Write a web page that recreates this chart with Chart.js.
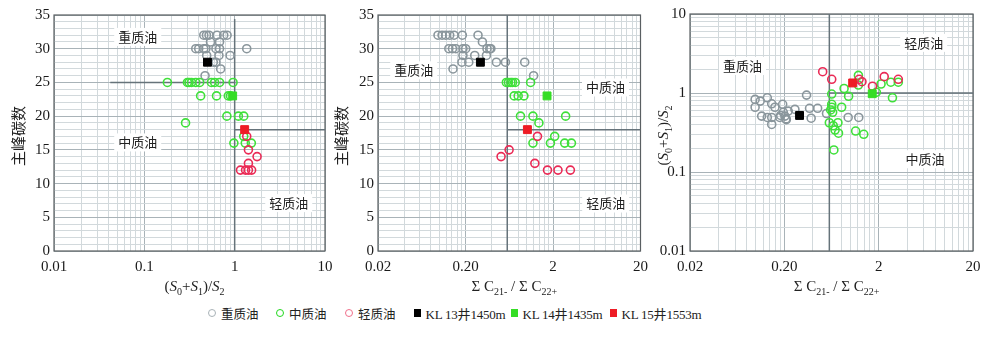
<!DOCTYPE html>
<html>
<head>
<meta charset="utf-8">
<script src="https://cdn.jsdelivr.net/npm/chart.js@4.4.1/dist/chart.umd.min.js"></script>
<style>
body { margin: 0; background: #fff; }
#wrap { position: relative; width: 1000px; height: 339px; overflow: hidden; background: #fff; }
canvas { position: absolute; top: 0; }
#legend { position: absolute; top: 303px; left: 0; width: 1000px; height: 20px; color: #222;
  font-family: 'Liberation Serif', 'Noto Sans CJK SC', serif; }
.item { position: absolute; top: 0; height: 20px; display: flex; align-items: center; white-space: nowrap; }
.mk { display: inline-block; box-sizing: border-box; margin-right: 5px; }
.circ { width: 8px; height: 8px; border-radius: 50%; border: 1.5px solid; }
.sq { width: 7px; height: 8px; }
</style>
</head>
<body>
<div id="wrap">
  <canvas id="chartA" width="340" height="300" style="left:0px"></canvas>
  <canvas id="chartB" width="325" height="300" style="left:330px"></canvas>
  <canvas id="chartC" width="355" height="300" style="left:645px"></canvas>
  <div id="legend"></div>
</div>
<script>
// ---- 数据：左图 (S0+S1)/S2 - 主峰碳数 ----
const heavyS_A = [0.455, 0.487, 0.52, 0.638, 0.757, 0.824, 0.54, 0.68, 0.371, 0.40, 0.455, 0.48, 0.62, 0.68, 1.36, 0.49, 0.67, 0.89, 0.58, 0.62, 0.70, 0.47];
const heavyPeakA = [32, 32, 32, 32, 32, 32, 31, 31, 30, 30, 30, 30, 30, 30, 30, 29, 29, 29, 28, 28, 27, 26];
const midS_A = [0.18, 0.30, 0.313, 0.333, 0.371, 0.41, 0.553, 0.60, 0.68, 0.96, 0.42, 0.63, 0.85, 0.90, 0.82, 1.10, 1.26, 0.286, 1.26, 0.98, 1.31, 1.53];
const midPeakA = [25, 25, 25, 25, 25, 25, 25, 25, 25, 25, 23, 23, 23, 23, 20, 20, 20, 19, 17, 16, 16, 16];
const lightS_A = [1.36, 1.42, 1.77, 1.42, 1.16, 1.32, 1.42, 1.54];
const lightPeakA = [17, 15, 14, 13, 12, 12, 12, 12];
const wellS_A = [0.50, 0.95, 1.29];
const wellPeakA = [28, 23, 18];

// ---- 数据：中图 ΣC21-/ΣC22+ - 主峰碳数 ----
const heavyC_B = [0.097, 0.108, 0.119, 0.132, 0.148, 0.184, 0.278, 0.312, 0.129, 0.142, 0.155, 0.187, 0.201, 0.352, 0.378, 0.39, 0.187, 0.255, 0.347, 0.182, 0.218, 0.451, 0.572, 0.95, 0.144, 1.2];
const heavyPeakB = [32, 32, 32, 32, 32, 32, 32, 31, 30, 30, 30, 30, 30, 30, 30, 30, 29, 29, 29, 28, 28, 28, 28, 28, 27, 26];
const midC_B = [0.586, 0.62, 0.66, 0.69, 0.74, 1.11, 0.72, 0.80, 0.93, 0.85, 1.18, 2.79, 1.38, 2.09, 1.18, 1.87, 2.72, 3.25];
const midPeakB = [25, 25, 25, 25, 25, 25, 23, 23, 23, 20, 20, 20, 19, 17, 16, 16, 16, 16];
const lightC_B = [1.33, 0.63, 0.51, 1.24, 1.73, 2.28, 3.16];
const lightPeakB = [17, 15, 14, 13, 12, 12, 12];
const wellC_B = [0.296, 1.71, 1.02];
const wellPeakB = [28, 23, 18];

// ---- 数据：右图 ΣC21-/ΣC22+ - (S0+S1)/S2 ----
const heavyC_C = [0.098, 0.098, 0.111, 0.132, 0.147, 0.159, 0.192, 0.195, 0.203, 0.208, 0.115, 0.132, 0.147, 0.147, 0.179, 0.183, 0.21, 0.259, 0.22, 0.344, 0.37, 0.385, 0.451, 0.56, 0.95, 1.23];
const heavyS_C = [0.83, 0.66, 0.79, 0.87, 0.73, 0.66, 0.72, 0.57, 0.51, 0.47, 0.51, 0.49, 0.49, 0.40, 0.49, 0.52, 0.46, 0.62, 0.59, 0.94, 0.64, 0.48, 0.64, 0.55, 0.49, 0.49];
const midC_C = [0.636, 0.636, 0.636, 0.62, 0.65, 0.60, 0.66, 0.69, 0.75, 0.74, 0.67, 0.81, 0.86, 0.96, 1.14, 1.39, 1.22, 1.22, 1.89, 2.12, 2.69, 2.80, 3.23];
const midS_C = [0.97, 0.72, 0.66, 0.61, 0.57, 0.42, 0.385, 0.34, 0.31, 0.42, 0.19, 0.66, 1.14, 0.91, 0.33, 0.30, 1.67, 1.26, 1.02, 1.30, 1.37, 0.87, 1.37];
const lightC_C = [0.51, 0.636, 1.24, 1.33, 1.72, 2.29, 3.23];
const lightS_C = [1.86, 1.49, 1.49, 1.39, 1.22, 1.61, 1.49];
const wellC_C = [0.29, 1.71, 1.06];
const wellS_C = [0.52, 0.98, 1.34];

// 刻度
const peakTicks = [0, 5, 10, 15, 20, 25, 30, 35];
const sTicks = [0.01, 0.1, 1, 10];
const sTickLabels = ['0.01', '0.1', '1', '10'];
const cTicks = [0.02, 0.2, 2, 20];
const cTickLabels = ['0.02', '0.20', '2', '20'];

// 分界线 (数据坐标)
const cutsA = [[[0.042, 25], [1, 25]], [[1, 0], [1, 34.4]], [[1, 18], [10, 18]]];
const cutsB = [[[0.6, 0], [0.6, 35]], [[0.6, 18], [20, 18]]];
const cutsC = [[[0.6, 0.01], [0.6, 10]], [[0.6, 1], [20, 1]]];

// 区域文字 (数据坐标)
const zonesA = [['重质油', 0.0845, 31.75], ['中质油', 0.0845, 16.1], ['轻质油', 3.97, 7.1]];
const zonesB = [['重质油', 0.0512, 26.8], ['中质油', 7.96, 24.25], ['轻质油', 8.0, 7.04]];
const zonesC = [['轻质油', 6.0, 4.31], ['重质油', 0.072, 2.2], ['中质油', 6.2, 0.145]];

const typeNames = ['重质油', '中质油', '轻质油'];
const wellNames = ['KL 13井1450m', 'KL 14井1435m', 'KL 15井1553m'];

// ---- 样式 ----
const typeColors = ['#8a969c', '#3fe03a', '#ea2a55'];
const legendCircleColors = ['#a8b2b7', '#22d81e', '#f0708c'];
const wellColors = ['#000000', '#35dd25', '#ee1c25'];
const gridMinor = '#d2d9dc';
const gridMajor = '#a9b3b8';
const cutColor = '#66737a';
const tickFont = { family: "'Liberation Serif', serif", size: 15 };

const titleS = [['(', 'n'], ['S', 'i'], ['0', 's'], ['+', 'n'], ['S', 'i'], ['1', 's'], [')/', 'n'], ['S', 'i'], ['2', 's']];
const titleC = [['Σ', 'n'], [' C', 'n'], ['21-', 's'], [' /', 'n'], [' Σ', 'n'], [' C', 'n'], ['22+', 's']];
const titlePeak = [['主峰碳数', 'c']];

function pts(xs, ys) {
    return xs.map((x, i) => ({ x: x, y: ys[i] }));
}

// 对数网格：每个标注刻度的 1~9 倍
function logGrid(labels) {
    const out = [];
    for (let i = 0; i < labels.length - 1; i++) {
        for (let k = 1; k < 10; k++) out.push(labels[i] * k);
    }
    out.push(labels[labels.length - 1]);
    return out;
}

function findLabel(vals, v) {
    return vals.findIndex(t => Math.abs(t - v) / t < 1e-6);
}

function logAxis(min, max, vals, texts, isX, box) {
    return {
        type: 'logarithmic', min: min, max: max,
        afterBuildTicks: s => { s.ticks = logGrid(vals).map(v => ({ value: v })); },
        afterFit: s => { if (isX) s.height = box; else s.width = box; },
        ticks: {
            autoSkip: false, maxRotation: 0, padding: isX ? 7 : 4, font: tickFont, color: '#1a1a1a',
            callback: v => { const i = findLabel(vals, v); return i < 0 ? '' : texts[i]; }
        },
        grid: {
            drawTicks: false, lineWidth: 1,
            color: c => (c.tick && findLabel(vals, c.tick.value) >= 0) ? gridMajor : gridMinor
        },
        border: { display: false }
    };
}

function peakAxis(box) {
    return {
        type: 'linear', min: 0, max: 35,
        afterFit: s => { s.width = box; },
        ticks: {
            stepSize: 1, autoSkip: false, padding: 4, font: tickFont, color: '#1a1a1a',
            callback: v => peakTicks.includes(v) ? String(v) : ''
        },
        grid: {
            drawTicks: false, lineWidth: 1,
            color: c => (c.tick && peakTicks.includes(c.tick.value)) ? gridMajor : gridMinor
        },
        border: { display: false }
    };
}

// 带上下标的标题
function drawRich(ctx, parts, cx, cy, rot) {
    const fonts = {
        n: "15px 'Liberation Serif'",
        i: "italic 15px 'Liberation Serif'",
        s: "10px 'Liberation Serif'",
        c: "15px 'Noto Sans CJK SC'"
    };
    let w = 0;
    parts.forEach(p => { ctx.font = fonts[p[1]]; w += ctx.measureText(p[0]).width; });
    ctx.save();
    ctx.translate(cx, cy);
    ctx.rotate(rot);
    ctx.textAlign = 'left';
    ctx.textBaseline = 'alphabetic';
    ctx.fillStyle = '#222';
    let x = -w / 2;
    parts.forEach(p => {
        ctx.font = fonts[p[1]];
        ctx.fillText(p[0], x, p[1] === 's' ? 9 : 5);
        x += ctx.measureText(p[0]).width;
    });
    ctx.restore();
}

function panelPlugin(zones, xTitle, yTitle, yTitleX) {
    return {
        id: 'panelDeco',
        beforeDatasetsDraw(chart) {
            const { ctx, chartArea: a, scales: { x, y } } = chart;
            ctx.save();
            ctx.strokeStyle = '#5a5f62';
            ctx.lineWidth = 1.2;
            ctx.strokeRect(a.left, a.top, a.width, a.height);
            ctx.font = "13px 'Noto Sans CJK SC'";
            ctx.textAlign = 'center';
            ctx.textBaseline = 'middle';
            zones.forEach(z => {
                const px = x.getPixelForValue(z[1]);
                const py = y.getPixelForValue(z[2]);
                const w = ctx.measureText(z[0]).width + 8;
                ctx.fillStyle = '#fff';
                ctx.fillRect(px - w / 2, py - 9, w, 18);
                ctx.fillStyle = '#222';
                ctx.fillText(z[0], px, py);
            });
            ctx.restore();
        },
        afterDraw(chart) {
            const { ctx, chartArea: a } = chart;
            drawRich(ctx, xTitle, (a.left + a.right) / 2 + 5, a.bottom + 35, 0);
            drawRich(ctx, yTitle, yTitleX, (a.top + a.bottom) / 2 + 3, -Math.PI / 2);
        }
    };
}

function makePanel(id, series, cuts, scales, padding, plugin) {
    const datasets = [];
    cuts.forEach(c => {
        datasets.push({
            data: c.map(p => ({ x: p[0], y: p[1] })), showLine: true, pointRadius: 0,
            borderColor: cutColor, borderWidth: 1.5, order: 10
        });
    });
    for (let t = 0; t < 3; t++) {
        datasets.push({
            label: typeNames[t], data: series[t], pointStyle: 'circle', pointRadius: 4,
            borderColor: typeColors[t], backgroundColor: 'rgba(0,0,0,0)', borderWidth: 1.6, order: 5 - t
        });
    }
    series[3].forEach((p, i) => {
        datasets.push({
            label: wellNames[i], data: [p], pointStyle: 'rect', pointRadius: 5.6,
            borderColor: wellColors[i], backgroundColor: wellColors[i], borderWidth: 1, order: 0
        });
    });
    new Chart(document.getElementById(id), {
        type: 'scatter',
        data: { datasets: datasets },
        options: {
            responsive: false, animation: false, devicePixelRatio: 1, events: [],
            layout: { padding: padding },
            plugins: { legend: { display: false }, tooltip: { enabled: false } },
            scales: scales
        },
        plugins: [plugin]
    });
}

makePanel('chartA',
    [pts(heavyS_A, heavyPeakA), pts(midS_A, midPeakA), pts(lightS_A, lightPeakA), pts(wellS_A, wellPeakA)],
    cutsA,
    { x: logAxis(0.01, 10, sTicks, sTickLabels, true, 49), y: peakAxis(54) },
    { top: 15, right: 15, left: 0, bottom: 0 },
    panelPlugin(zonesA, titleS, titlePeak, 19));

makePanel('chartB',
    [pts(heavyC_B, heavyPeakB), pts(midC_B, midPeakB), pts(lightC_B, lightPeakB), pts(wellC_B, wellPeakB)],
    cutsB,
    { x: logAxis(0.02, 20, cTicks, cTickLabels, true, 49), y: peakAxis(48) },
    { top: 15, right: 14, left: 0, bottom: 0 },
    panelPlugin(zonesB, titleC, titlePeak, 12));

makePanel('chartC',
    [pts(heavyC_C, heavyS_C), pts(midC_C, midS_C), pts(lightC_C, lightS_C), pts(wellC_C, wellS_C)],
    cutsC,
    { x: logAxis(0.02, 20, cTicks, cTickLabels, true, 49), y: logAxis(0.01, 10, sTicks, sTickLabels, false, 45) },
    { top: 14, right: 27, left: 0, bottom: 0 },
    panelPlugin(zonesC, titleC, titleS, 18));

// ---- 图例 ----
const legendLeft = [208, 276, 345, 413.5, 510.5, 609.5];
const legend = document.getElementById('legend');
const legendItems = typeNames.map((n, i) => ({ name: n, color: legendCircleColors[i], sq: false }))
    .concat(wellNames.map((n, i) => ({ name: n, color: wellColors[i], sq: true })));
legendItems.forEach((it, i) => {
    const div = document.createElement('div');
    div.className = 'item';
    div.style.left = legendLeft[i] + 'px';
    const mk = document.createElement('span');
    if (it.sq) {
        mk.className = 'mk sq';
        mk.style.background = it.color;
    } else {
        mk.className = 'mk circ';
        mk.style.borderColor = it.color;
    }
    const txt = document.createElement('span');
    txt.textContent = it.name;
    txt.style.fontSize = it.sq ? '13px' : '12.5px';
    if (!it.sq) txt.style.fontFamily = "'Noto Sans CJK SC'";
    else txt.style.letterSpacing = '-0.2px';
    div.appendChild(mk);
    div.appendChild(txt);
    legend.appendChild(div);
});
</script>
</body>
</html>
